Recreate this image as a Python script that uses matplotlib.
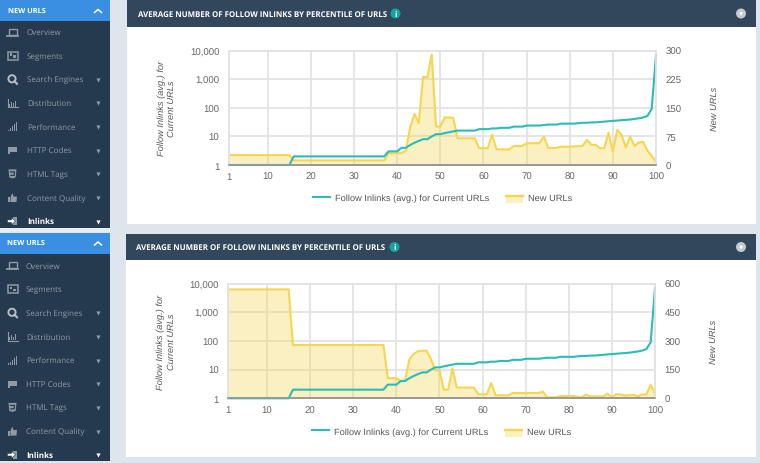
import matplotlib
matplotlib.use("Agg")
import matplotlib.pyplot as plt
from matplotlib.lines import Line2D
from matplotlib.patches import Circle, Polygon, Rectangle
from matplotlib.ticker import FuncFormatter

plt.rcParams["text.hinting"] = "no_hinting"

percentiles = list(range(1, 101))

follow_inlinks = [
    1, 1, 1, 1, 1, 1, 1, 1, 1, 1,
    1, 1, 1, 1, 1, 2, 2, 2, 2, 2,
    2, 2, 2, 2, 2, 2, 2, 2, 2, 2,
    2, 2, 2, 2, 2, 2, 2, 3, 3, 3,
    4, 4, 5, 6, 7, 8, 8, 10, 12, 12,
    13, 14, 15, 16, 16, 16, 16, 16, 18, 18,
    18, 19, 19, 20, 20, 20, 22, 22, 22, 24,
    24, 24, 24, 25, 26, 26, 26, 28, 28, 28,
    28, 29, 30, 30, 31, 31, 32, 33, 34, 35,
    36, 37, 38, 39, 41, 43, 46, 52, 91, 7000,
]

new_urls_top = [
    26, 26, 26, 26, 26, 26, 26, 26, 26, 26,
    26, 26, 26, 26, 26, 12, 12, 12, 12, 12,
    12, 12, 12, 12, 12, 12, 12, 12, 12, 12,
    12, 12, 12, 12, 12, 12, 12, 31, 31, 31,
    31, 37, 99, 134, 110, 231, 231, 290, 101, 101,
    125, 125, 123, 70, 70, 70, 70, 70, 44, 44,
    44, 80, 41, 41, 41, 41, 50, 50, 50, 57,
    57, 57, 57, 75, 45, 45, 45, 48, 48, 48,
    49, 49, 50, 66, 53, 53, 44, 44, 85, 35,
    92, 80, 46, 75, 50, 59, 61, 38, 24, 9,
]

new_urls_bottom = [
    570, 570, 570, 570, 570, 570, 570, 570, 570, 570,
    570, 570, 570, 570, 570, 279, 279, 279, 279, 279,
    279, 279, 279, 279, 279, 279, 279, 279, 279, 279,
    279, 279, 279, 279, 279, 279, 279, 105, 105, 105,
    92, 92, 202, 232, 246, 249, 249, 206, 148, 146,
    45, 45, 157, 56, 56, 56, 56, 56, 21, 21,
    21, 80, 16, 16, 16, 16, 28, 28, 28, 28,
    28, 28, 28, 35, 5, 5, 5, 12, 12, 12,
    12, 8, 5, 20, 10, 10, 10, 10, 24, 4,
    22, 20, 15, 16, 18, 10, 20, 20, 72, 22,
]

x_ticks = [1, 10, 20, 30, 40, 50, 60, 70, 80, 90, 100]
left_ticks = [1, 10, 100, 1000, 10000]
right_ticks_top = [0, 75, 150, 225, 300]
right_ticks_bottom = [0, 150, 300, 450, 600]
menu_items = ["Overview", "Segments", "Search Engines", "Distribution", "Performance",
              "HTTP Codes", "HTML Tags", "Content Quality", "Inlinks"]
menu_has_caret = [False, False, True, True, True, True, True, True, True]
title = "AVERAGE NUMBER OF FOLLOW INLINKS BY PERCENTILE OF URLS"

TEAL = "#2cbcb8"
YELLOW = "#f6d64f"
NAVY = "#253a4e"
HEADER = "#32475c"
BLUE = "#3a8fe2"
MENU = "#8f9ba7"
TICK = "#666666"
GRID = "#e3e3e3"
W, H = 760, 464
UI_FONT = ["Open Sans", "DejaVu Sans"]
CHART_FONT = ["Liberation Sans", "DejaVu Sans"]

fig = plt.figure(figsize=(W / 100, H / 100), dpi=100, facecolor="#dfe5ec")
bg = fig.add_axes([0, 0, 1, 1])
bg.set_xlim(0, W)
bg.set_ylim(H, 0)
bg.axis("off")


def draw_icon(i, cx, cy, color):
    # rough versions of the menu icons, all around 10px
    if i == 0:  # laptop
        bg.add_patch(Rectangle((cx - 4, cy - 3.5), 8, 6, fill=False, ec=color, lw=1))
        bg.plot([cx - 5.5, cx + 5.5], [cy + 3.5, cy + 3.5], color=color, lw=1.3)
    elif i == 1:  # segments
        bg.add_patch(Rectangle((cx - 5, cy - 4), 10, 8, fill=False, ec=color, lw=1.1))
        bg.add_patch(Rectangle((cx - 3, cy - 2.5), 2.5, 2.5, color=color, lw=0))
        bg.add_patch(Rectangle((cx + 0.5, cy - 0.5), 2.5, 2.5, color=color, lw=0))
    elif i == 2:  # magnifier
        bg.add_patch(Circle((cx - 0.5, cy - 0.5), 3.6, fill=False, ec="#b4bdc6", lw=1.4))
        bg.plot([cx + 2, cx + 4.5], [cy + 2, cy + 4.5], color="#b4bdc6", lw=1.5)
    elif i == 3:  # bars with axis
        for dx, h in zip([-3, -1, 1, 3], [3, 5, 3.5, 6]):
            bg.add_patch(Rectangle((cx + dx - 0.5, cy + 4 - h), 1.1, h, color=color, lw=0))
        bg.plot([cx - 5, cx - 5, cx + 5], [cy - 4, cy + 4.5, cy + 4.5], color=color, lw=0.8)
    elif i == 4:  # signal
        for n, h in enumerate([1.5, 3, 5, 7, 9]):
            bg.add_patch(Rectangle((cx - 4.5 + n * 2, cy + 4.5 - h), 1.3, h, color=color, lw=0))
    elif i == 5:  # flag
        bg.add_patch(Polygon([(cx - 4.5, cy - 3), (cx + 4.5, cy - 3), (cx + 4.5, cy + 2),
                              (cx - 3, cy + 2), (cx - 3, cy + 4), (cx - 4.5, cy + 4)], color=color, lw=0))
    elif i == 6:  # html5 shield
        bg.add_patch(Polygon([(cx - 4, cy - 4.5), (cx + 4, cy - 4.5), (cx + 3.2, cy + 3.5),
                              (cx, cy + 4.5), (cx - 3.2, cy + 3.5)], color=color, lw=0))
        bg.plot([cx - 2, cx + 2, cx + 1.6, cx - 1.6], [cy - 2, cy - 2, cy + 1.5, cy + 1.5],
                color=NAVY, lw=0.9)
    elif i == 7:  # thumb
        bg.add_patch(Rectangle((cx - 4.5, cy - 0.5), 2, 5, color=color, lw=0))
        bg.add_patch(Polygon([(cx - 2, cy - 0.5), (cx, cy - 4.5), (cx + 1, cy - 1), (cx + 4.5, cy - 1),
                              (cx + 4, cy + 4.5), (cx - 2, cy + 4.5)], color=color, lw=0))
    else:  # sign in
        bg.add_patch(Rectangle((cx, cy - 4), 4.5, 8, color=color, lw=0))
        bg.add_patch(Polygon([(cx - 5, cy - 1.3), (cx - 1, cy - 1.3), (cx - 1, cy - 3.5), (cx + 3, cy),
                              (cx - 1, cy + 3.5), (cx - 1, cy + 1.3), (cx - 5, cy + 1.3)],
                             color="white", ec=NAVY, lw=0.4, zorder=3))


def draw_sidebar(top, bottom, y0, x0):
    bg.add_patch(Rectangle((0, top), 110, bottom - top, color=NAVY, lw=0))
    bg.add_patch(Rectangle((0, top), 110, 21, color=BLUE, lw=0))
    bg.text(x0 - 19, top + 10, "NEW URLS", color="white", fontsize=5.3, fontweight="bold",
            family=UI_FONT, va="center")
    bg.plot([94.5, 98, 101.5], [top + 12.5, top + 9.5, top + 12.5], color="white", lw=1.1)
    for n, item in enumerate(menu_items):
        y = y0 + n * 23.65
        active = item == "Inlinks"
        bg.text(x0, y, item, color="white" if active else MENU, fontsize=5.8,
                fontweight="bold" if active else "normal", family=UI_FONT, va="center")
        draw_icon(n, 12.5, y, MENU)
        if menu_has_caret[n]:
            bg.plot([98], [y + 0.5], marker="v", ms=3, color="white" if active else MENU, mew=0)


def draw_panel(left, top, bottom):
    bg.add_patch(Rectangle((left, top), 756 - left, bottom - top, color="white", lw=0))
    bg.add_patch(Rectangle((left, top), 756 - left, 26.5, color=HEADER, lw=0))
    cy = top + 13.5
    bg.text(left + 10.5, cy, title, color="white", fontsize=5.65, fontweight="bold",
            family=UI_FONT, va="center")
    bg.add_patch(Circle((left + 268.5, cy), 5, color="#12a5a0", lw=0))
    bg.text(left + 268.5, cy, "i", color="white", fontsize=6, fontweight="bold",
            family=UI_FONT, ha="center", va="center")
    bg.add_patch(Circle((741, cy), 5, color="#c3cad1", lw=0))
    bg.add_patch(Circle((741, cy), 1.6, color="white", lw=0))


class AreaHandler:
    # legend key with the line on top of a pale strip, like the area series
    def legend_artist(self, legend, orig_handle, fontsize, handlebox):
        w = handlebox.width
        handlebox.add_artist(Rectangle((0, -2), w, 5, fc=YELLOW, alpha=0.35, lw=0,
                                       transform=handlebox.get_transform()))
        handlebox.add_artist(Line2D([0, w], [3, 3], color=YELLOW, lw=1.7,
                                    transform=handlebox.get_transform()))
        return handlebox


def draw_chart(left, right, top, bottom, new_urls, right_ticks):
    rect = [left / W, 1 - bottom / H, (right - left) / W, (bottom - top) / H]
    # the twin log axis sits on top so the teal line covers the yellow area
    area_ax = fig.add_axes(rect, facecolor="none")
    ax = area_ax.twinx()

    area_ax.set_xlim(1, 100)
    area_ax.set_xticks(x_ticks)
    area_ax.yaxis.tick_right()
    area_ax.set_ylim(0, right_ticks[-1])
    area_ax.set_yticks(right_ticks)
    area_ax.grid(True, color=GRID, lw=1.3)
    area_ax.set_axisbelow(True)
    area_ax.fill_between(percentiles, new_urls, 0, color=YELLOW, alpha=0.35, lw=0)
    area_ax.plot(percentiles, new_urls, color=YELLOW, lw=1.5, solid_joinstyle="round")

    ax.yaxis.tick_left()
    ax.set_yscale("log")
    ax.set_ylim(1, 10000)
    ax.set_yticks(left_ticks)
    ax.minorticks_off()
    ax.yaxis.set_major_formatter(FuncFormatter(lambda v, _: f"{int(v):,}"))
    line_follow, = ax.plot(percentiles, follow_inlinks, color=TEAL, lw=1.5, clip_on=False,
                           solid_joinstyle="round")

    for a in (area_ax, ax):
        a.tick_params(length=0, labelsize=6.9, labelcolor=TICK, labelfontfamily="Liberation Sans")
        a.tick_params(axis="y", pad=7)
        a.tick_params(axis="x", pad=5)
        for side, s in a.spines.items():
            s.set_color("#999999" if side == "bottom" else GRID)
            s.set_linewidth(1.2)

    ax.set_ylabel("Follow Inlinks (avg.) for\nCurrent URLs", fontsize=6.7, style="italic",
                  color="#555555", family=CHART_FONT, linespacing=1.3)
    ax.yaxis.set_label_position("left")
    ax.yaxis.set_label_coords(-0.124, 0.5)
    area_ax.set_ylabel("New URLs", fontsize=6.7, style="italic", color="#555555", family=CHART_FONT,
                       rotation=90)
    area_ax.yaxis.set_label_position("right")
    area_ax.yaxis.set_label_coords(1.127, 0.5)

    key = object()
    ax.legend([line_follow, key], ["Follow Inlinks (avg.) for Current URLs", "New URLs"],
              handler_map={key: AreaHandler()}, loc="center", bbox_to_anchor=(0.5, -0.289),
              ncol=2, frameon=False, labelcolor="#555555", handlelength=1.85,
              handletextpad=0.55, columnspacing=1.75, prop={"family": CHART_FONT, "size": 6.7})


bg.add_patch(Rectangle((0, 229), 110, 4, color="#e8edf2", lw=0))
draw_sidebar(1, 229, 33, 27)
draw_sidebar(233.5, 462, 266.5, 26)
draw_panel(127, 1, 225)
draw_panel(126, 234.5, 458)

draw_chart(229, 656, 51.7, 166, new_urls_top, right_ticks_top)
draw_chart(228.3, 655, 284.7, 399.3, new_urls_bottom, right_ticks_bottom)

fig.savefig("out.png", dpi=100, facecolor=fig.get_facecolor())
